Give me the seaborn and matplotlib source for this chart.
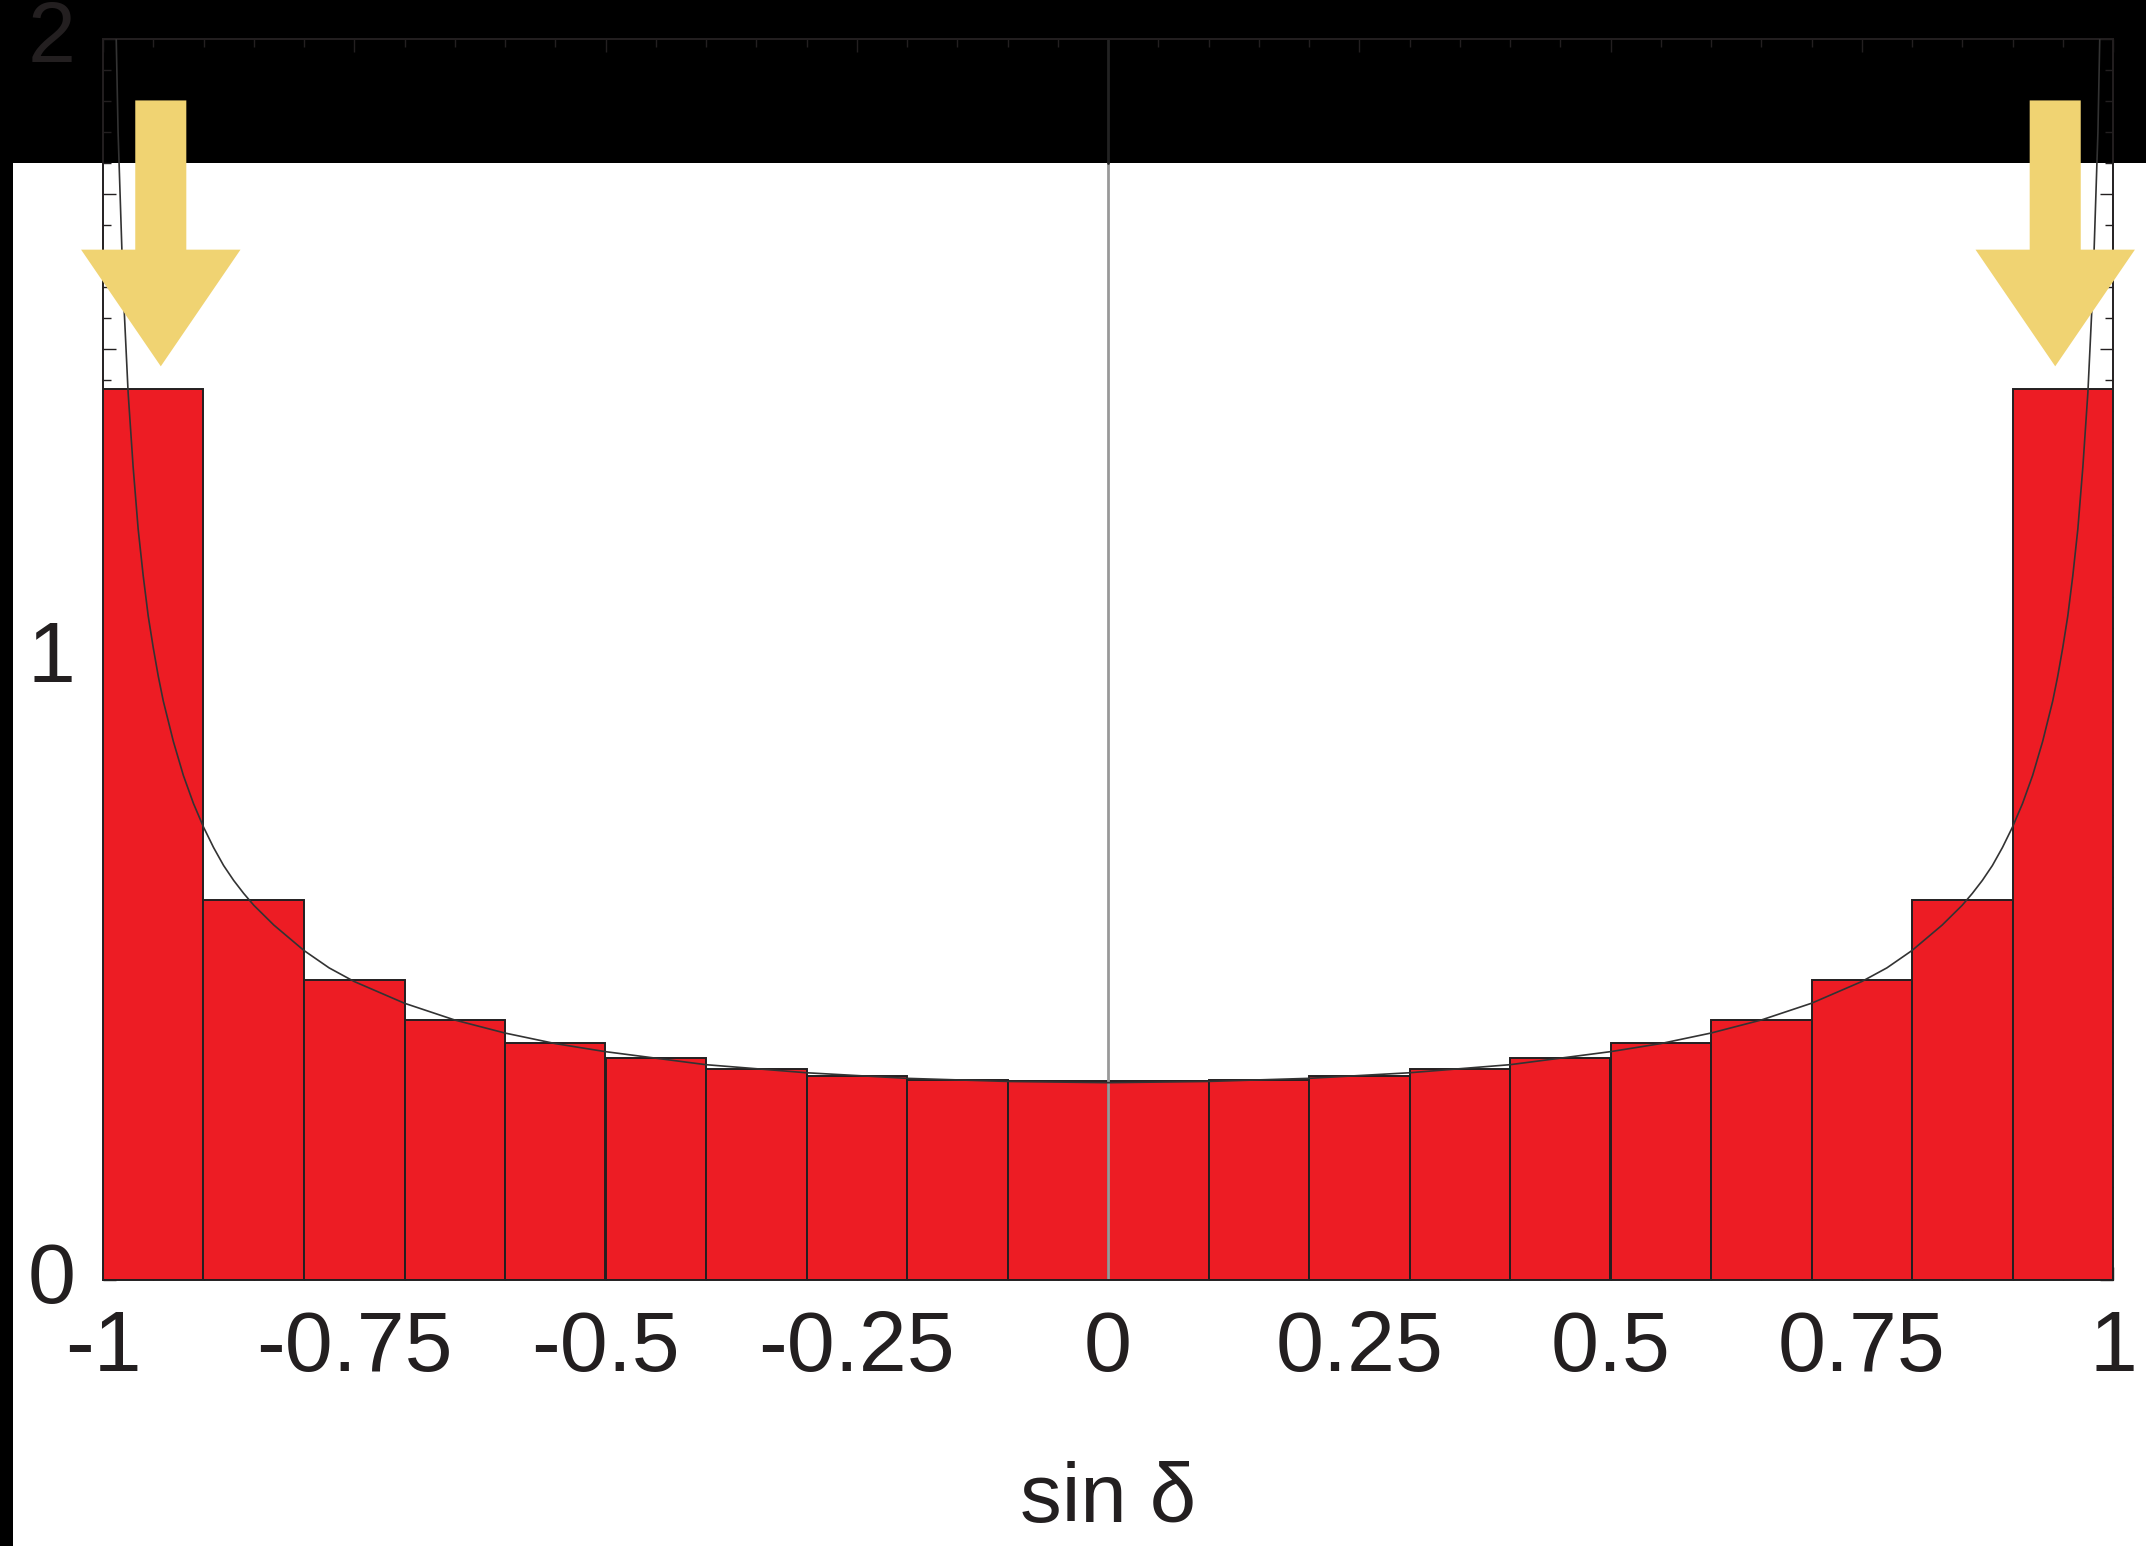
import matplotlib
matplotlib.use("Agg")
import matplotlib.pyplot as plt
from matplotlib.patches import Rectangle, FancyArrow
from matplotlib.ticker import MultipleLocator, FuncFormatter
from matplotlib.transforms import ScaledTranslation
import seaborn as sns

# histogram: 20 bins of width 0.1 on [-1, 1], heights
bin_centers = [-0.95, -0.85, -0.75, -0.65, -0.55, -0.45, -0.35, -0.25, -0.15, -0.05,
               0.05, 0.15, 0.25, 0.35, 0.45, 0.55, 0.65, 0.75, 0.85, 0.95]
bin_heights = [1.436, 0.613, 0.483, 0.419, 0.382, 0.357, 0.340, 0.329, 0.322, 0.320,
               0.320, 0.322, 0.329, 0.340, 0.357, 0.382, 0.419, 0.483, 0.613, 1.436]

# thin density curve
curve_x = [-0.995, -0.99, -0.985, -0.98, -0.975, -0.97, -0.965, -0.96, -0.955, -0.95,
           -0.945, -0.94, -0.93, -0.92, -0.91, -0.90, -0.89, -0.88, -0.87, -0.86,
           -0.85, -0.83, -0.80, -0.775, -0.75, -0.70, -0.65, -0.60, -0.55, -0.50,
           -0.40, -0.30, -0.20, -0.10, 0.0, 0.10, 0.20, 0.30, 0.40, 0.50,
           0.55, 0.60, 0.65, 0.70, 0.75, 0.775, 0.80, 0.83, 0.85, 0.86,
           0.87, 0.88, 0.89, 0.90, 0.91, 0.92, 0.93, 0.94, 0.945, 0.95,
           0.955, 0.96, 0.965, 0.97, 0.975, 0.98, 0.985, 0.99, 0.995]
curve_y = [3.19, 2.26, 1.85, 1.60, 1.43, 1.31, 1.21, 1.135, 1.07, 1.019,
           0.973, 0.933, 0.868, 0.813, 0.768, 0.730, 0.697, 0.668, 0.644, 0.623,
           0.604, 0.572, 0.531, 0.503, 0.481, 0.446, 0.419, 0.398, 0.381, 0.368,
           0.347, 0.334, 0.325, 0.320, 0.318, 0.320, 0.325, 0.334, 0.347, 0.368,
           0.381, 0.398, 0.419, 0.446, 0.481, 0.503, 0.531, 0.572, 0.604, 0.623,
           0.644, 0.668, 0.697, 0.730, 0.768, 0.813, 0.868, 0.933, 0.973, 1.019,
           1.07, 1.135, 1.21, 1.31, 1.43, 1.60, 1.85, 2.26, 3.19]

arrow_x = [-0.9425, 0.9425]

sns.set_style("ticks")
plt.rcParams["font.family"] = ["Liberation Sans", "DejaVu Sans"]
plt.rcParams["axes.unicode_minus"] = False

ink = "#231f20"

fig = plt.figure(figsize=(21.46, 15.46), dpi=100)
fig.patch.set_facecolor("white")
# black strips of the cropped screenshot
fig.add_artist(Rectangle((0, 0), 13 / 2146, 1, transform=fig.transFigure,
                         facecolor="black", edgecolor="none", zorder=-5))
fig.add_artist(Rectangle((0, 1 - 163 / 1546), 1, 163 / 1546, transform=fig.transFigure,
                         facecolor="black", edgecolor="none", zorder=-5))

ax = fig.add_axes([103 / 2146, 266 / 1546, 2010 / 2146, 1241 / 1546])
ax.set_facecolor("none")

sns.histplot(x=bin_centers, weights=bin_heights, binwidth=0.1, binrange=(-1, 1),
             stat="count", color="#ed1c24", alpha=1, edgecolor=ink, linewidth=1.4, ax=ax)

ax.axvline(0, ymin=0, ymax=0.9, color="#999999", lw=2, zorder=1.5)
ax.axvline(0, ymin=0.9, ymax=1, color="#222222", lw=2, zorder=1.5)

sns.lineplot(x=curve_x, y=curve_y, sort=False, color="#333333", lw=1.2, ax=ax, zorder=3)

for xa in arrow_x:
    ax.add_patch(FancyArrow(xa, 1.901, 0, 1.4725 - 1.901, width=0.0508, head_width=0.1586,
                            head_length=0.188, length_includes_head=True,
                            facecolor="#f0d372", edgecolor="none", zorder=6, clip_on=False))

ax.set_xlim(-1, 1)
ax.set_ylim(0, 2)
ax.set_ylabel("")

ax.xaxis.set_major_locator(MultipleLocator(0.25))
ax.xaxis.set_minor_locator(MultipleLocator(0.05))
ax.yaxis.set_major_locator(MultipleLocator(0.25))
ax.yaxis.set_minor_locator(MultipleLocator(0.05))
ax.xaxis.set_major_formatter(FuncFormatter(lambda v, p: f"{v:g}"))
ax.yaxis.set_major_formatter(FuncFormatter(lambda v, p: f"{v:g}" if abs(v - round(v)) < 1e-9 else ""))

ax.tick_params(which="both", direction="in", top=True, right=True, color=ink, width=1.0,
               labelcolor=ink, labelsize=62)
ax.tick_params(which="major", length=9.5)
ax.tick_params(which="minor", length=5.8)
ax.tick_params(axis="x", which="major", pad=21)
ax.tick_params(axis="y", which="major", pad=20)

# y labels sit a little above their ticks in the reference
shift = ScaledTranslation(0, 6 / 72, fig.dpi_scale_trans)
for lab in ax.get_yticklabels():
    lab.set_transform(lab.get_transform() + shift)

for s in ax.spines.values():
    s.set_color(ink)
    s.set_linewidth(1.4)

ax.set_xlabel("sin δ", fontsize=60, color=ink)
ax.xaxis.set_label_coords(0.5, -0.146)

fig.savefig("out.png", dpi=100)
